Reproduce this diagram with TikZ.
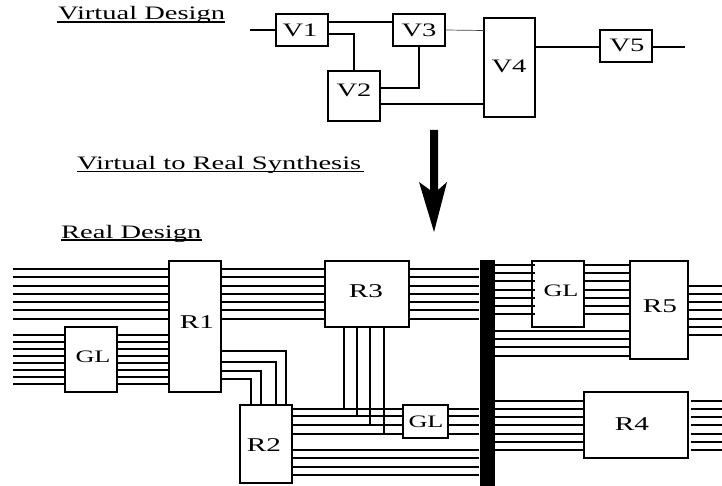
\documentclass[tikz,border=0pt]{standalone}
\usepackage{fontspec}
\setmainfont[FakeStretch=1.5]{Liberation Serif}
\newcommand{\boxlab}[9]{%
  \node[box,minimum width={(#4-#2)*1pt},minimum height={(#5-#3)*1pt}] (#1) at ({(#2+#4)/2},{(#3+#5)/2}) {};
  \node[#9] (#1-t) at (#7,#8) {#6};}
\tikzset{
  box/.style={draw,fill=white,line width=1.8pt,inner sep=0pt,outer sep=0pt},
  wire/.style={line width=1.8pt},
  rlab/.style={inner sep=0pt,font=\fontsize{19.5}{19.5}\selectfont},
  glab/.style={inner sep=0pt,font=\fontsize{17.5}{17.5}\selectfont},
  vlab/.style={inner sep=0pt,font=\fontsize{19}{19}\selectfont},
  head/.style={anchor=base west,inner sep=0pt,font=\fontsize{19}{19}\selectfont},
  uline/.style={line width=1.4pt}
}
\begin{document}
\begin{tikzpicture}[x=1pt,y=-1pt]
\useasboundingbox (0,0) rectangle (722,486);
% headings
\node[head] (h1) at (58,20) {Virtual Design};
\node[head] (h2) at (77,170) {Virtual to Real Synthesis};
\node[head] (h3) at (61,238) {Real Design};
\draw[uline] (57,22) -- (225,22);
\draw[uline] (77,171.5) -- (364,171.5);
\draw[uline] (61,240) -- (202,240);
% virtual design
\boxlab{V1}{276}{14}{328}{46}{V1}{300}{30}{vlab}
\boxlab{V3}{393}{14}{445}{46}{V3}{419}{30}{vlab}
\boxlab{V2}{328}{71}{380}{121}{V2}{354}{90}{vlab}
\boxlab{V4}{484}{18}{535}{117}{V4}{509}{66}{vlab}
\boxlab{V5}{600}{30}{652}{62}{V5}{627}{45}{vlab}
\coordinate (vin) at (250,30);
\coordinate (vout) at (685,47);
\draw[wire] (vin) -- (V1.west |- vin);
\draw[wire] (V1.east |- 0,22) -- (V3.west |- 0,22);
\draw[wire] (V1.east |- 0,34) -| (V2.north);
\draw[wire] (V3.south) |- (V2.east |- 0,88);
\draw[wire] (V2.east |- 0,104) -- (V4.west |- 0,104);
\draw[line width=.7pt,black!75] (V3.east |- 0,30) -- (V4.west |- 0,30.5);
\draw[wire] (V4.east |- vout) -- (V5.west |- vout);
\draw[wire] (V5.east |- vout) -- (vout);
% synthesis arrow
\fill (430,130) -- (438,130) -- (438,190) -- (447,182) -- (434,232) -- (419,182) -- (430,190) -- cycle;
% real design: boxes
\boxlab{GLa}{65}{327}{117}{392}{GL}{93}{357}{glab}
\boxlab{R1}{169}{261}{221}{392}{R1}{197}{322}{rlab}
\boxlab{R2}{240}{405}{292}{483}{R2}{264}{445}{rlab}
\boxlab{R3}{325}{261}{409}{327}{R3}{366}{291}{rlab}
\boxlab{GLb}{403}{405}{448}{438}{GL}{426}{422}{glab}
\boxlab{GLc}{532}{261}{584}{327}{GL}{561}{291}{glab}
\boxlab{R5}{630}{261}{688}{359}{R5}{660}{306}{rlab}
\boxlab{R4}{584}{392}{688}{458}{R4}{632}{424}{rlab}
\node[fill=black,inner sep=0pt,minimum width=15pt,minimum height=226pt] (bar) at (487,373) {};
\coordinate (left) at (13,0);
\coordinate (right) at (722,0);
% real design: buses
\foreach \y in {269,277,286,294,302,310,319}{
  \draw[wire] (left |- 0,\y) -- (R1.west |- 0,\y);
  \draw[wire] (R1.east |- 0,\y) -- (R3.west |- 0,\y);
  \draw[wire] (R3.east |- 0,\y) -- (bar.west |- 0,\y);
}
\foreach \y in {335,342,349,356,363,370,377,384}{
  \draw[wire] (left |- 0,\y) -- (GLa.west |- 0,\y);
  \draw[wire] (GLa.east |- 0,\y) -- (R1.west |- 0,\y);
}
\draw[wire] ([xshift=1pt]R1.east |- 0,351) -| (R2.north -| 286,0);
\draw[wire] ([xshift=1pt]R1.east |- 0,362) -| (R2.north -| 276,0);
\draw[wire] ([xshift=1pt]R1.east |- 0,371) -| (R2.north -| 261,0);
\draw[wire] ([xshift=1pt]R1.east |- 0,379) -| (R2.north -| 251,0);
\foreach \y in {409,416,425,434}{
  \draw[wire] (R2.east |- 0,\y) -- (GLb.west |- 0,\y);
  \draw[wire] ([xshift=-1pt]GLb.east |- 0,\y) -- (bar.west |- 0,\y);
}
\foreach \y in {450,458,467,475}{
  \draw[wire] (R2.east |- 0,\y) -- (bar.west |- 0,\y);
}
\draw[wire] (R3.south -| 344,0) -- (344,409);
\draw[wire] (R3.south -| 357,0) -- (357,416);
\draw[wire] (R3.south -| 370,0) -- (370,425);
\draw[wire] (R3.south -| 384,0) -- (384,434);
\foreach \y in {265,273,281,290,298,306,314}{
  \draw[wire] (bar.east |- 0,\y) -- ([xshift=3pt]GLc.west |- 0,\y);
  \draw[wire] (GLc.east |- 0,\y) -- (R5.west |- 0,\y);
}
\foreach \y in {331,339,347,356}{
  \draw[wire] (bar.east |- 0,\y) -- (R5.west |- 0,\y);
}
\foreach \y in {286,294,302,310,319,327,335}{
  \draw[wire] (R5.east |- 0,\y) -- (right |- 0,\y);
}
\foreach \y in {401,409,417,425,434,442,450}{
  \draw[wire] (bar.east |- 0,\y) -- (R4.west |- 0,\y);
  \draw[wire] ([xshift=3pt]R4.east |- 0,\y) -- (right |- 0,\y);
}
\end{tikzpicture}
\end{document}
